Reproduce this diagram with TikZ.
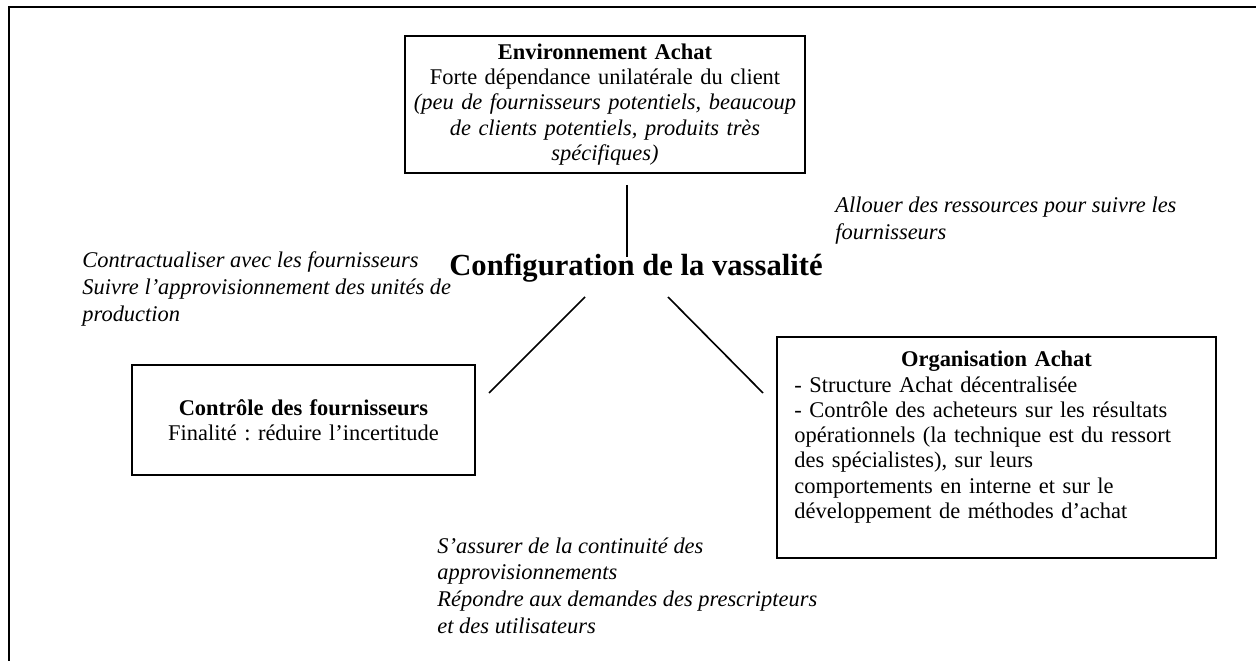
\documentclass[tikz,border=0pt]{standalone}
\usepackage{fontspec}
\setmainfont{Liberation Serif}
\frenchspacing
\tikzset{
  frame/.style={line width=1.2pt},
  box/.style={draw,line width=0.9pt,inner sep=0pt,align=center,font=\fontsize{11}{12.4}\selectfont},
  note/.style={anchor=north west,inner sep=0pt,align=left,font=\fontsize{11}{13.2}\selectfont\itshape},
  head/.style={inner sep=0pt,font=\fontsize{15}{17}\selectfont\bfseries},
  link/.style={line width=0.8pt}
}

\begin{document}
\begin{tikzpicture}[x=0.49pt,y=-0.49pt]
\useasboundingbox (0,0) rectangle (1256,661);
\draw[frame] (9,661) -- (9,7) -- (1256,7);
% the three boxes round the configuration
\node[box,text width=192pt,minimum width=196pt,minimum height=67.1pt] (env) at (605,104.5) {\textbf{Environnement Achat}\\Forte dépendance unilatérale du client\\\textit{(peu de fournisseurs potentiels, beaucoup}\\\textit{de clients potentiels, produits très}\\\textit{spécifiques)}};
\node[head] (conf) at (636,268) {Configuration de la vassalité};
\node[box,text width=164pt,minimum width=168pt,minimum height=53.9pt] (ctrl) at (303.5,420) {\textbf{Contrôle des fournisseurs}\\Finalité : réduire l’incertitude};
\node[box,text width=198pt,minimum width=215pt,minimum height=108.3pt,align=left] (orga) at (996.5,447.5) {\makebox[\linewidth][c]{\textbf{Organisation Achat}}\\- Structure Achat décentralisée\\- Contrôle des acheteurs sur les résultats\\opérationnels (la technique est du ressort\\des spécialistes), sur leurs\\comportements en interne et sur le\\développement de méthodes d’achat\\\mbox{}};
% connectors
\coordinate (e1) at (627,185); \coordinate (e2) at (627,257);
\coordinate (c1) at (585,297); \coordinate (c2) at (489,393);
\coordinate (o1) at (668,297); \coordinate (o2) at (763,393);
\draw[link] (e1) -- (e2);
\draw[link] (c1) -- (c2);
\draw[link] (o1) -- (o2);
% roles
\node[note] (nl) at (82,251) {Contractualiser avec les fournisseurs\\Suivre l’approvisionnement des unités de\\production};
\node[note] (nr) at (835,197) {Allouer des ressources pour suivre les\\fournisseurs};
\node[note] (nb) at (437,537) {S’assurer de la continuité des\\approvisionnements\\Répondre aux demandes des prescripteurs\\et des utilisateurs};
\end{tikzpicture}
\end{document}
